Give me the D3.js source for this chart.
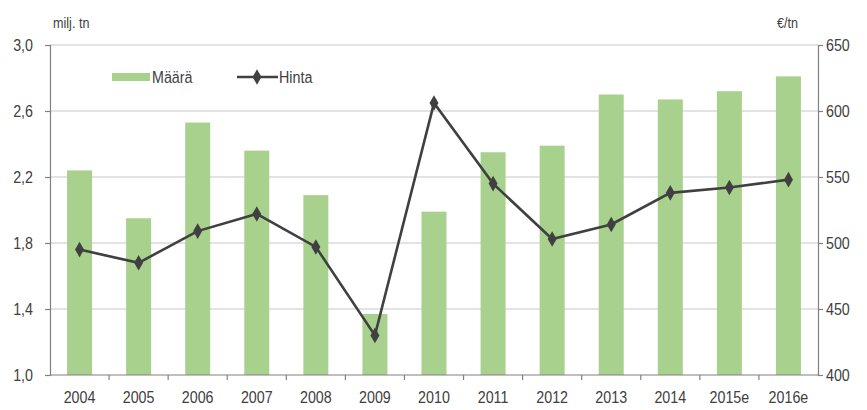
<!DOCTYPE html>
<html>
<head>
<meta charset="utf-8">
<script src="https://cdn.jsdelivr.net/npm/d3@7"></script>
<style>
  html, body { margin: 0; padding: 0; background: #fff; }
  svg text { font-family: "Liberation Sans", Arial, sans-serif; fill: #404040; }
</style>
</head>
<body>
<svg id="chart" width="867" height="410"></svg>
<script>
// Vuodet
const years = ["2004","2005","2006","2007","2008","2009","2010","2011","2012","2013","2014","2015e","2016e"];
// Määrä, milj. tn
const maara = [2.24, 1.95, 2.53, 2.36, 2.09, 1.37, 1.99, 2.35, 2.39, 2.70, 2.67, 2.72, 2.81];
// Hinta, €/tn
const hinta = [495, 485, 509, 522, 497, 430, 606, 545, 503, 514, 538, 542, 548];
const leftTicks = [1.0, 1.4, 1.8, 2.2, 2.6, 3.0];
const rightTicks = [400, 450, 500, 550, 600, 650];

const svg = d3.select("#chart");
const m = { left: 50, right: 818, top: 45, bottom: 375 };
const SX = 0.84;   // kapea kirjasin: vaakasuora puristus
const FS = 17;

const x = d3.scaleBand().domain(years).range([m.left, m.right]).paddingInner(0).paddingOuter(0);
const yL = d3.scaleLinear().domain([1.0, 3.0]).range([m.bottom, m.top]);
const yR = d3.scaleLinear().domain([400, 650]).range([m.bottom, m.top]);

const fmt = d3.format(".1f");
const comma = v => fmt(v).replace(".", ",");

// Kapea teksti: puristetaan ankkuripisteen ympäri
function narrowText(parent, px, py, str, anchor, size) {
  return parent.append("text")
    .attr("transform", `translate(${px},${py}) scale(${SX},1)`)
    .attr("text-anchor", anchor || "start")
    .attr("font-size", size || FS)
    .text(str);
}

// Vaakasuorat apuviivat
svg.append("g").selectAll("line").data(leftTicks.slice(1)).join("line")
  .attr("x1", m.left).attr("x2", m.right)
  .attr("y1", d => yL(d)).attr("y2", d => yL(d))
  .attr("stroke", "#c8c8c8").attr("stroke-width", 1.2);

// Pylväät
const barW = 25;
svg.append("g").selectAll("rect").data(years).join("rect")
  .attr("x", d => x(d) + x.bandwidth() / 2 - barW / 2)
  .attr("width", barW)
  .attr("y", (d, i) => yL(maara[i]))
  .attr("height", (d, i) => yL(1.0) - yL(maara[i]))
  .attr("fill", "#a9d18e");

// Akselit
const axL = svg.append("g").attr("transform", `translate(${m.left},0)`)
  .call(d3.axisLeft(yL).tickValues(leftTicks).tickFormat(comma).tickSize(5));
const axR = svg.append("g").attr("transform", `translate(${m.right},0)`)
  .call(d3.axisRight(yR).tickValues(rightTicks).tickSize(5));
const axB = svg.append("g").attr("transform", `translate(0,${m.bottom})`)
  .call(d3.axisBottom(x).tickSize(0));

// Luokkien rajat
svg.append("g").selectAll("line").data(years.slice(1)).join("line")
  .attr("x1", d => x(d)).attr("x2", d => x(d))
  .attr("y1", m.bottom).attr("y2", m.bottom + 5)
  .attr("stroke", "#808080").attr("stroke-width", 1.2);

[axL, axR, axB].forEach(g => {
  g.select(".domain").attr("stroke", "#808080").attr("stroke-width", 1.2);
  g.selectAll(".tick line").attr("stroke", "#808080").attr("stroke-width", 1.2);
  g.selectAll("text").attr("font-size", FS).attr("fill", "#404040")
    .style("font-family", '"Liberation Sans", Arial, sans-serif');
});
axB.select(".domain").attr("d", `M${m.left},0H${m.right}`);

axL.selectAll(".tick text").attr("x", null).attr("dy", "0.35em")
  .attr("transform", `translate(-17,0) scale(${SX},1)`);
axR.selectAll(".tick text").attr("x", null).attr("dy", "0.35em")
  .attr("transform", `translate(8,0) scale(${SX},1)`);
axB.selectAll(".tick text").attr("y", null).attr("dy", null)
  .attr("transform", `translate(0,28) scale(${SX},1)`);

// Hintaviiva
const line = d3.line().x((d, i) => x(years[i]) + x.bandwidth() / 2).y(d => yR(d));
svg.append("path").datum(hinta).attr("d", line)
  .attr("fill", "none").attr("stroke", "#404040").attr("stroke-width", 2.6);
const diamond = d3.symbol().type(d3.symbolDiamond).size(70);
svg.append("g").selectAll("path").data(hinta).join("path")
  .attr("d", diamond)
  .attr("transform", (d, i) => `translate(${x(years[i]) + x.bandwidth() / 2},${yR(d)})`)
  .attr("fill", "#404040");

// Yksiköt
narrowText(svg, 53, 28, "milj. tn", "start", 15);
narrowText(svg, 777, 28, "€/tn", "start", 15);

// Selite
const lg = svg.append("g");
lg.append("rect").attr("x", 112).attr("y", 73).attr("width", 38).attr("height", 8).attr("fill", "#a9d18e");
narrowText(lg, 152, 83, "Määrä");
lg.append("line").attr("x1", 237).attr("x2", 278).attr("y1", 77).attr("y2", 77)
  .attr("stroke", "#404040").attr("stroke-width", 2.6);
lg.append("path").attr("d", diamond).attr("transform", "translate(257,77)").attr("fill", "#404040");
narrowText(lg, 279, 83, "Hinta");
</script>
</body>
</html>
